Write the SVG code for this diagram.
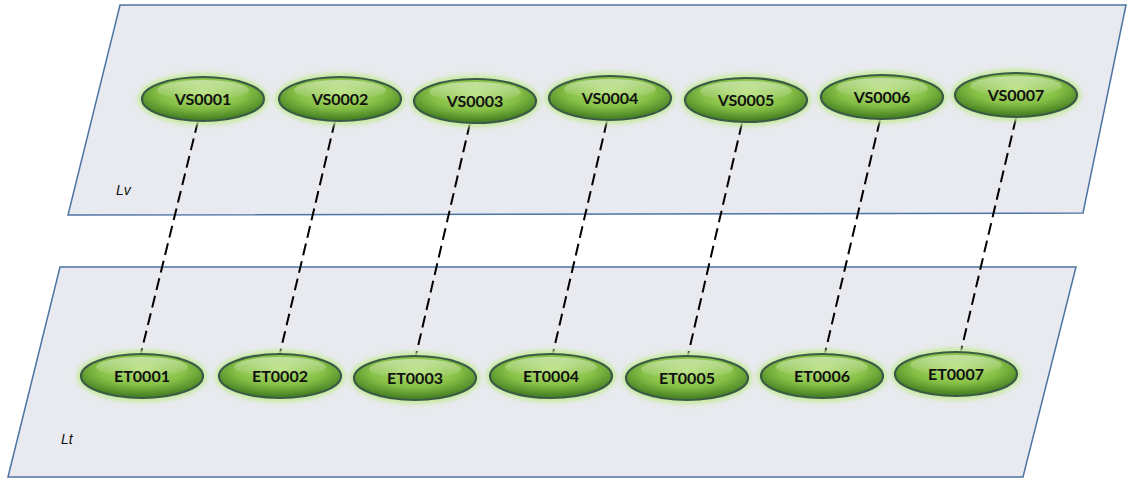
<svg xmlns="http://www.w3.org/2000/svg" width="1127" height="478" viewBox="0 0 1127 478">
<defs>
<radialGradient id="g" cx="0.5" cy="0.35" r="0.6">
<stop offset="0" stop-color="#b2de74"/>
<stop offset="0.6" stop-color="#86c046"/>
<stop offset="1" stop-color="#4a8424"/>
</radialGradient>
<linearGradient id="hl" x1="0" y1="0" x2="0" y2="1">
<stop offset="0" stop-color="#ffffff" stop-opacity="0.45"/>
<stop offset="1" stop-color="#ffffff" stop-opacity="0"/>
</linearGradient>
<filter id="glow" x="-20%" y="-50%" width="140%" height="200%">
<feGaussianBlur stdDeviation="2.5"/>
</filter>
<g id="node">
<ellipse cx="0" cy="0" rx="65" ry="26" fill="#c6ea9a" filter="url(#glow)"/>
<ellipse cx="0" cy="0" rx="61" ry="22" fill="url(#g)" stroke="#3a5a48" stroke-width="2.2"/>
<ellipse cx="0" cy="-9" rx="46" ry="10" fill="url(#hl)"/>
</g>
</defs>
<style>
.plane{fill:#e8eaef;stroke:#4d74a3;stroke-width:1.5}
.lbl{font-family:Lato,"Open Sans",sans-serif;font-weight:bold;font-size:16px;fill:#111;text-anchor:middle}
.lay{font-family:"Liberation Sans",Arial,sans-serif;font-style:italic;font-size:14px;fill:#111}
.conn line{stroke:#000;stroke-width:2;stroke-dasharray:12,6}
</style>
<g id="planes">
<polygon class="plane" points="120,5 1126,5 1083,213 68,215"/>
<polygon class="plane" points="60,267 1076,267 1023,477 8,477"/>
<text class="lay" x="116" y="195">Lv</text>
<text class="lay" x="61" y="444">Lt</text>
</g>
<g id="connectors" class="conn">
<line x1="198" y1="121" x2="141" y2="353"/>
<line x1="335" y1="121" x2="280" y2="353"/>
<line x1="470" y1="123" x2="416" y2="355"/>
<line x1="607" y1="121" x2="553" y2="353"/>
<line x1="742" y1="123" x2="688" y2="355"/>
<line x1="880" y1="120" x2="825" y2="353"/>
<line x1="1016" y1="118" x2="961" y2="351"/>
</g>
<g id="VS0001"><use href="#node" x="203" y="99"/><text class="lbl" x="203" y="105">VS0001</text></g>
<g id="VS0002"><use href="#node" x="340" y="99"/><text class="lbl" x="340" y="105">VS0002</text></g>
<g id="VS0003"><use href="#node" x="475" y="101"/><text class="lbl" x="475" y="107">VS0003</text></g>
<g id="VS0004"><use href="#node" x="610" y="98"/><text class="lbl" x="610" y="104">VS0004</text></g>
<g id="VS0005"><use href="#node" x="746" y="100"/><text class="lbl" x="746" y="106">VS0005</text></g>
<g id="VS0006"><use href="#node" x="882" y="97"/><text class="lbl" x="882" y="103">VS0006</text></g>
<g id="VS0007"><use href="#node" x="1016" y="95"/><text class="lbl" x="1016" y="101">VS0007</text></g>
<g id="ET0001"><use href="#node" x="142" y="376"/><text class="lbl" x="142" y="382">ET0001</text></g>
<g id="ET0002"><use href="#node" x="280" y="376"/><text class="lbl" x="280" y="382">ET0002</text></g>
<g id="ET0003"><use href="#node" x="415" y="378"/><text class="lbl" x="415" y="384">ET0003</text></g>
<g id="ET0004"><use href="#node" x="551" y="376"/><text class="lbl" x="551" y="382">ET0004</text></g>
<g id="ET0005"><use href="#node" x="687" y="378"/><text class="lbl" x="687" y="384">ET0005</text></g>
<g id="ET0006"><use href="#node" x="822" y="376"/><text class="lbl" x="822" y="382">ET0006</text></g>
<g id="ET0007"><use href="#node" x="956" y="374"/><text class="lbl" x="956" y="380">ET0007</text></g>
</svg>
